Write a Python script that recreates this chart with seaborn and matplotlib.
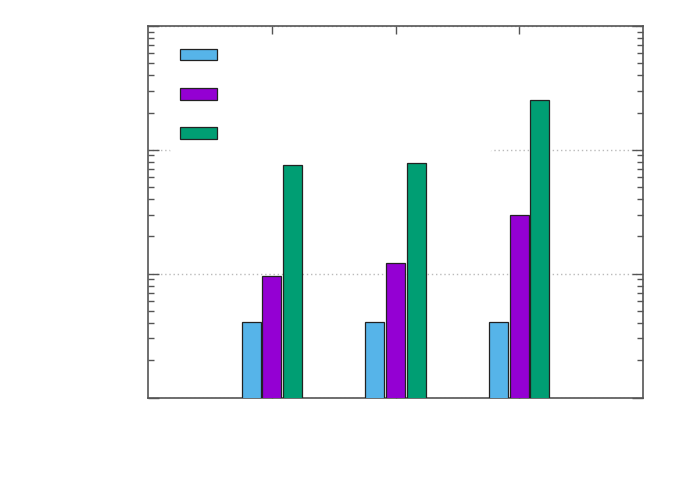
import matplotlib
matplotlib.use("Agg")
import matplotlib.pyplot as plt
import seaborn as sns
import pandas as pd
import numpy as np
from matplotlib.ticker import LogLocator, NullFormatter, FixedLocator

sns.set_theme(style="white")

categories = ["", "", ""]
group_ids = ["g1", "g2", "g3"]
series_names = ["s1", "s2", "s3"]
series1 = [4.1, 4.1, 4.1]
series2 = [9.5, 12.3, 30.0]
series3 = [75.5, 78.5, 252.0]
colors = ["#56B4E9", "#9400D3", "#009E73"]

rows = []
for gi, a, b, c in zip(group_ids, series1, series2, series3):
    rows.append((gi, series_names[0], a))
    rows.append((gi, series_names[1], b))
    rows.append((gi, series_names[2], c))
df = pd.DataFrame(rows, columns=["group", "series", "value"])

fig = plt.figure(figsize=(6.92, 4.85), dpi=100)
ax = fig.add_axes([148/692, 1 - 398.5/485, (643-148)/692, (398.5-27)/485])

sns.barplot(data=df, x="group", y="value", hue="series", order=group_ids,
            hue_order=series_names, palette=colors, saturation=1,
            width=0.5, gap=0.08,
            edgecolor="#222222", linewidth=0.9, ax=ax, legend=True, zorder=3)

ax.set_yscale("log")
ax.set_ylim(1, 1000)
ax.set_xlim(-1, 3)
ax.set_xlabel("")
ax.set_ylabel("")
ax.set_xticks([0, 1, 2])
ax.set_xticklabels(categories)
ax.yaxis.set_major_locator(FixedLocator([1, 10, 100, 1000]))
ax.yaxis.set_minor_locator(LogLocator(base=10, subs=np.arange(2, 10)))
ax.yaxis.set_major_formatter(NullFormatter())
ax.yaxis.set_minor_formatter(NullFormatter())

ax.tick_params(axis="y", which="major", direction="in", length=8, width=1,
               color="#555555", left=True, right=True)
ax.tick_params(axis="y", which="minor", direction="in", length=4, width=1,
               color="#555555", left=True, right=True)
ax.tick_params(axis="x", which="major", direction="in", length=6, width=1,
               color="#555555", top=True, bottom=True)

for s in ax.spines.values():
    s.set_visible(True)
    s.set_color("#555555")
    s.set_linewidth(1.2)

ax.grid(False)
ax.yaxis.grid(True, which="major", linestyle=(0, (1, 2)), color="#bbbbbb",
              linewidth=1, zorder=0)
ax.set_axisbelow(True)

handles, _ = ax.get_legend_handles_labels()
leg = ax.legend(handles, ["", "", ""], loc="upper left",
                bbox_to_anchor=(0.03, 0.0, 0.677, 0.985), mode="expand",
                frameon=True, framealpha=1, facecolor="white", edgecolor="white",
                handlelength=2.73, handleheight=0.94, labelspacing=1.83,
                borderpad=0.7, fontsize=10)
leg.set_zorder(5)
for h in leg.legend_handles:
    h.set_edgecolor("#222222")
    h.set_linewidth(0.9)

fig.savefig("out.png", dpi=100)
